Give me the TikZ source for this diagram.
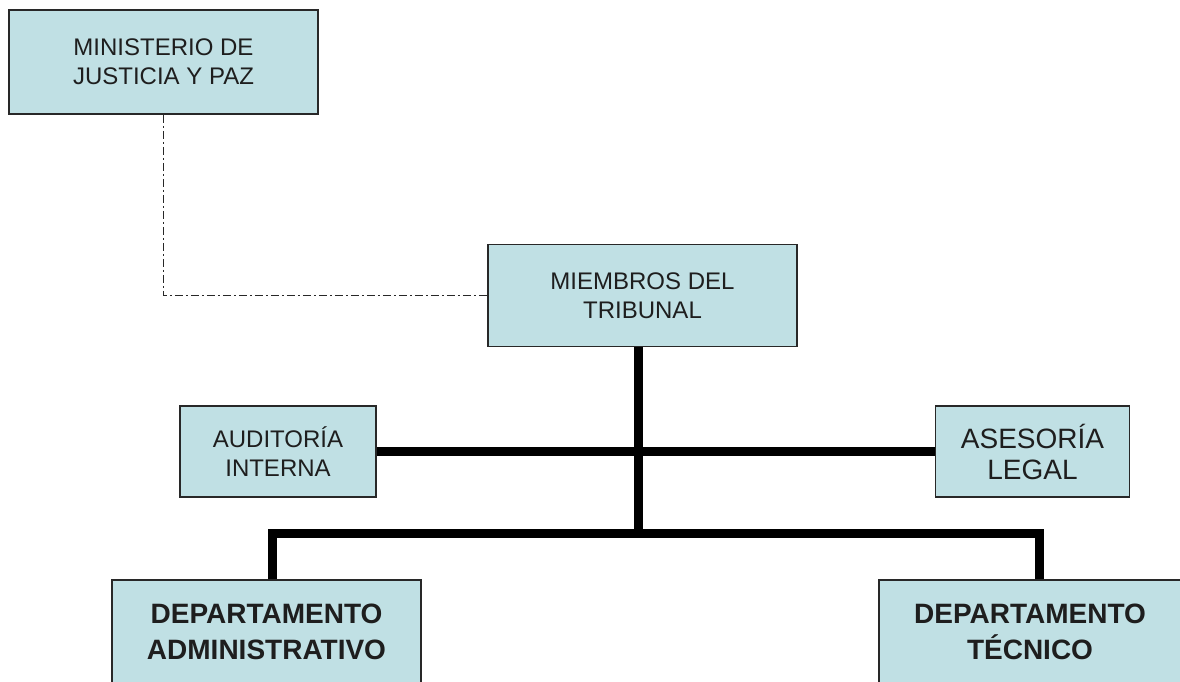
\documentclass[tikz,border=0pt]{standalone}
\usepackage{fontspec}
\setmainfont{Liberation Sans}
\definecolor{boxblue}{RGB}{192,224,228}
\definecolor{edge}{RGB}{40,40,40}
\definecolor{txt}{RGB}{30,30,30}
\tikzset{
  orgbox/.style={draw=edge, line width=1.8pt, fill=boxblue, text=txt, align=center, inner sep=0pt},
  regtext/.style={font=\fontsize{24}{29}\selectfont},
  bigtext/.style={font=\fontsize{28}{31}\selectfont},
  boldtext/.style={font=\fontsize{28}{36}\selectfont\bfseries},
  bus/.style={line width=9pt, black},
  dashdotline/.style={draw=edge, line width=1.8pt, dash pattern=on 8pt off 3pt on 2pt off 3pt}
}
\begin{document}
\begin{tikzpicture}[x=1pt, y=-1pt]
\useasboundingbox (0,0) rectangle (1180,681);
\clip (0,0) rectangle (1180,681);
\fill[white] (0,0) rectangle (1180,681);

\node[orgbox, regtext, minimum width=309pt, minimum height=104pt] (mini) at (163.5,62) {MINISTERIO DE\\JUSTICIA Y PAZ};
\node[orgbox, regtext, minimum width=309pt, minimum height=102pt] (miem) at (642.5,295.5) {MIEMBROS DEL\\TRIBUNAL};
\node[orgbox, regtext, minimum width=196pt, minimum height=91pt] (aud) at (278,451.5) {AUDITORÍA\\INTERNA};
\node[orgbox, bigtext, minimum width=194pt, minimum height=91pt] (ase) at (1032.5,451.5) {ASESORÍA\\LEGAL};
\node[orgbox, boldtext, minimum width=309pt, minimum height=104pt] (adm) at (266.5,632) {DEPARTAMENTO\\ADMINISTRATIVO};
\node[orgbox, boldtext, minimum width=302pt, minimum height=104pt] (tec) at (1030,632) {DEPARTAMENTO\\TÉCNICO};

\coordinate (busL) at (272,533);
\coordinate (busM) at (638,533);
\coordinate (busR) at (1039,533);

\draw[dashdotline] (mini.south) |- (miem.west);
\draw[bus] (busM |- miem.south) -- (busM);
\draw[bus] (aud.east) -- (ase.west);
\draw[bus] (adm.north -| busL) -- (busL) -- (busR) -- (tec.north -| busR);
\end{tikzpicture}
\end{document}
